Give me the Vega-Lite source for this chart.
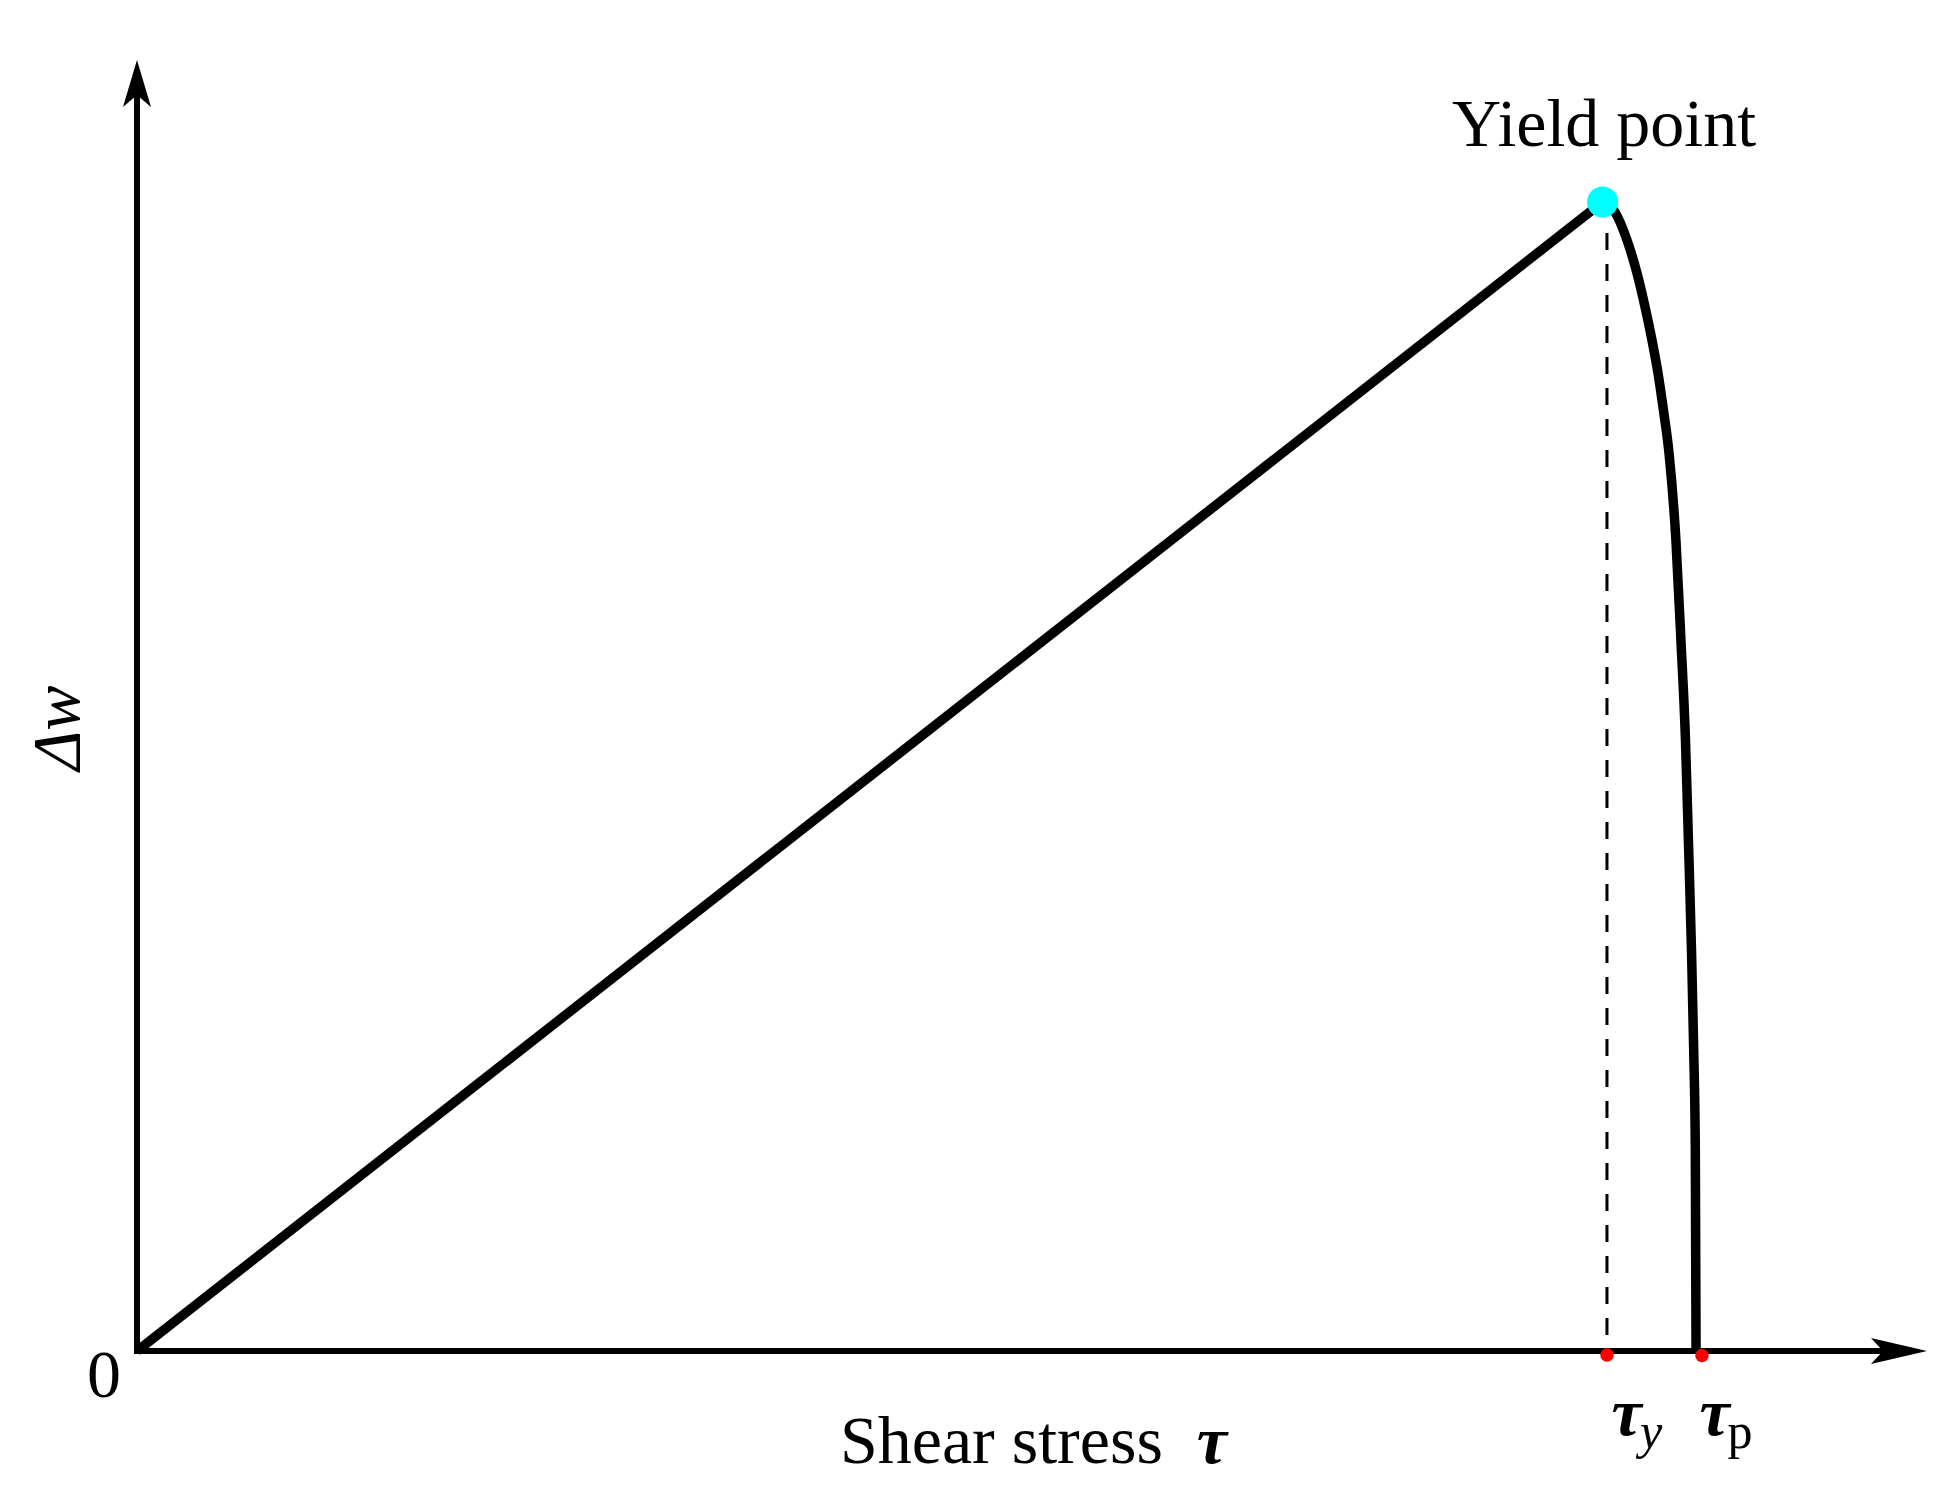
{
  "$schema": "https://vega.github.io/schema/vega-lite/v6.json",
  "width": 1958,
  "height": 1507,
  "padding": 0,
  "autosize": {"type": "none"},
  "background": "white",
  "config": {"view": {"stroke": null}},
  "datasets": {
    "diag": [
      {"tau": 0, "dw": 0},
      {"tau": 99.7, "dw": 100}
    ],
    "curve": [
      {"tau": 99.7, "dw": 100},
      {"tau": 100.54, "dw": 99.13},
      {"tau": 101.36, "dw": 96.69},
      {"tau": 102.04, "dw": 93.82},
      {"tau": 102.59, "dw": 90.86},
      {"tau": 103.06, "dw": 87.99},
      {"tau": 103.47, "dw": 85.12},
      {"tau": 103.81, "dw": 82.16},
      {"tau": 104.22, "dw": 78.15},
      {"tau": 104.69, "dw": 70.58},
      {"tau": 105.03, "dw": 61.88},
      {"tau": 105.34, "dw": 53.18},
      {"tau": 105.54, "dw": 44.47},
      {"tau": 105.75, "dw": 34.9},
      {"tau": 105.9, "dw": 26.2},
      {"tau": 106.01, "dw": 17.49},
      {"tau": 106.06, "dw": 0}
    ],
    "axes": [
      {"tau": 0, "dw": 0, "tau2": 0, "dw2": 109.2},
      {"tau": 0, "dw": 0, "tau2": 118.9, "dw2": 0}
    ],
    "yieldline": [
      {"tau": 100, "dw": 97.3, "dw2": 0}
    ],
    "xarrow": [{"tau": 121.77, "dw": 0}],
    "yarrow": [{"tau": 0, "dw": 112.36}],
    "yieldpt": [{"tau": 99.7, "dw": 100}],
    "marks": [
      {"name": "tau_y", "tau": 100, "dw": -0.35},
      {"name": "tau_p", "tau": 106.46, "dw": -0.4}
    ],
    "plain": [
      {"text": "Yield point", "tau": 89.46, "dw": 104.87},
      {"text": "0", "tau": -3.4, "dw": -4.0},
      {"text": "Shear stress", "tau": 47.82, "dw": -9.75}
    ],
    "greek": [
      {"text": "τ", "tau": 72.1, "dw": -9.75},
      {"text": "τ", "tau": 100.3, "dw": -7.3},
      {"text": "τ", "tau": 106.3, "dw": -7.3}
    ],
    "subit": [{"text": "y", "tau": 102.25, "dw": -8.44}],
    "subup": [{"text": "p", "tau": 108.2, "dw": -8.44}],
    "ylabel": [{"text": "Δw", "tau": -3.95, "dw": 54.22}]
  },
  "encoding": {
    "x": {"field": "tau", "type": "quantitative", "scale": {"domain": [-9.32, 123.88], "nice": false, "zero": false}, "axis": null},
    "y": {"field": "dw", "type": "quantitative", "scale": {"domain": [-13.58, 117.58], "nice": false, "zero": false}, "axis": null}
  },
  "layer": [
    {
      "data": {"name": "axes"},
      "mark": {"type": "rule", "color": "black", "strokeWidth": 6, "strokeCap": "square"},
      "encoding": {"x2": {"field": "tau2"}, "y2": {"field": "dw2"}}
    },
    {
      "data": {"name": "xarrow"},
      "mark": {"type": "point", "filled": true, "color": "black", "opacity": 1, "strokeWidth": 0, "size": 3136,
        "shape": "M 0 0 L -2 -0.464 L -1.571 0 L -2 0.464 Z"}
    },
    {
      "data": {"name": "yarrow"},
      "mark": {"type": "point", "filled": true, "color": "black", "opacity": 1, "strokeWidth": 0, "size": 2209,
        "shape": "M 0 0 L 0.596 2 L 0 1.489 L -0.596 2 Z"}
    },
    {
      "data": {"name": "yieldline"},
      "mark": {"type": "rule", "color": "black", "strokeWidth": 3, "strokeDash": [17, 14]},
      "encoding": {"y2": {"field": "dw2"}}
    },
    {
      "data": {"name": "diag"},
      "mark": {"type": "line", "color": "black", "strokeWidth": 9.5, "strokeJoin": "round"}
    },
    {
      "data": {"name": "curve"},
      "mark": {"type": "line", "color": "black", "strokeWidth": 9.5, "strokeJoin": "round", "interpolate": "monotone"}
    },
    {
      "data": {"name": "yieldpt"},
      "mark": {"type": "circle", "color": "#00ffff", "opacity": 1, "size": 960}
    },
    {
      "data": {"name": "marks"},
      "mark": {"type": "circle", "color": "#ff0000", "opacity": 1, "size": 180}
    },
    {
      "data": {"name": "plain"},
      "mark": {"type": "text", "font": "Liberation Serif", "fontSize": 68, "align": "left", "baseline": "alphabetic", "color": "black"},
      "encoding": {"text": {"field": "text"}}
    },
    {
      "data": {"name": "greek"},
      "mark": {"type": "text", "font": "Liberation Serif", "fontSize": 68, "fontStyle": "italic", "fontWeight": "bold", "align": "left", "baseline": "alphabetic", "color": "black"},
      "encoding": {"text": {"field": "text"}}
    },
    {
      "data": {"name": "subit"},
      "mark": {"type": "text", "font": "Liberation Serif", "fontSize": 50, "fontStyle": "italic", "align": "left", "baseline": "alphabetic", "color": "black"},
      "encoding": {"text": {"field": "text"}}
    },
    {
      "data": {"name": "subup"},
      "mark": {"type": "text", "font": "Liberation Serif", "fontSize": 50, "align": "left", "baseline": "alphabetic", "color": "black"},
      "encoding": {"text": {"field": "text"}}
    },
    {
      "data": {"name": "ylabel"},
      "mark": {"type": "text", "font": "Liberation Serif", "fontSize": 68, "fontStyle": "italic", "align": "center", "baseline": "alphabetic", "angle": 270, "color": "black"},
      "encoding": {"text": {"field": "text"}}
    }
  ]
}
